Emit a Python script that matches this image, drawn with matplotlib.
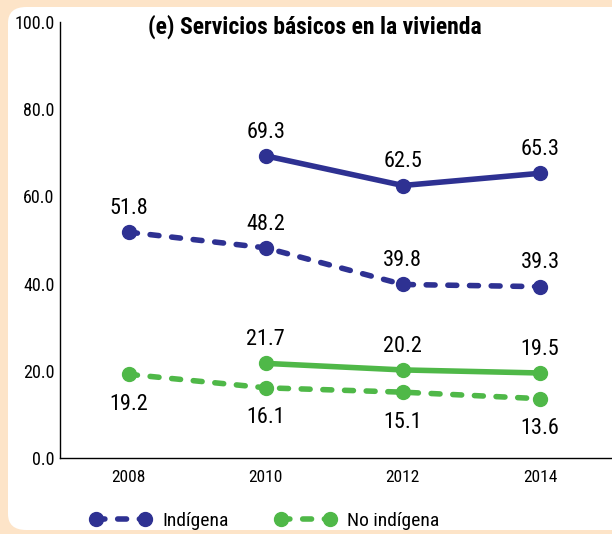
import matplotlib.pyplot as plt
from matplotlib.patches import FancyBboxPatch
from matplotlib.font_manager import fontManager

# Data
years_all = [2008, 2010, 2012, 2014]
years_new = [2010, 2012, 2014]
indigena_new = [69.3, 62.5, 65.3]
indigena_old = [51.8, 48.2, 39.8, 39.3]
noind_new = [21.7, 20.2, 19.5]
noind_old = [19.2, 16.1, 15.1, 13.6]
y_ticks = [0, 20, 40, 60, 80, 100]
y_labels = ['0.0', '20.0', '40.0', '60.0', '80.0', '100.0']
title = '(e) Servicios básicos en la vivienda'
legend_labels = ['Indígena', 'No indígena']

BLUE = '#2e3192'
GREEN = '#4fb848'
PEACH = '#fde4c8'

# condensed font if there is one
names = {f.name for f in fontManager.ttflist}
wanted = ['Roboto Condensed', 'Archivo Narrow', 'PT Sans Narrow', 'Barlow Condensed',
          'Liberation Sans Narrow', 'Asap Condensed', 'Encode Sans Condensed']
fam = [n for n in wanted if n in names][:1]
plt.rcParams['font.family'] = fam + ['DejaVu Sans']

fig = plt.figure(figsize=(6.12, 5.34), dpi=100)
fig.patch.set_facecolor(PEACH)
panel = FancyBboxPatch((8 / 612, 4 / 534), 640 / 612, 523 / 534,
                       boxstyle='round,pad=0,rounding_size=0.03',
                       transform=fig.transFigure, facecolor='white',
                       edgecolor='none', zorder=-5)
fig.patches.append(panel)

ax = fig.add_axes([60 / 612, 1 - 458 / 534, 1 - 60 / 612, (458 - 22) / 534])
ax.set_facecolor('none')
ax.set_xlim(2007, 2015.05)
ax.set_ylim(0, 100)
for s in ['top', 'right']:
    ax.spines[s].set_visible(False)
ax.spines['left'].set_linewidth(1)
ax.spines['bottom'].set_linewidth(1)
ax.set_yticks(y_ticks, y_labels, fontsize=13)
ax.set_xticks(years_all, [str(y) for y in years_all], fontsize=12.5)
ax.tick_params(length=0, pad=4)
ax.tick_params(axis='x', pad=9)

dash = (1.6, 2.3)
ms = 10
lw = 4
kw = dict(lw=lw, marker='o', ms=ms, clip_on=False, dash_capstyle='round',
          solid_capstyle='round')
ax.plot(years_new, indigena_new, color=BLUE, **kw)
ax.plot(years_all, indigena_old, color=BLUE, ls=(0, dash), **kw)
ax.plot(years_new, noind_new, color=GREEN, **kw)
ax.plot(years_all, noind_old, color=GREEN, ls=(0, dash), **kw)

fs = 16
for x, v in zip(years_new, indigena_new):
    ax.annotate(f'{v:.1f}', (x, v), xytext=(0, 9.5), textcoords='offset points',
                ha='center', va='bottom', fontsize=fs)
for x, v in zip(years_all, indigena_old):
    ax.annotate(f'{v:.1f}', (x, v), xytext=(0, 9.5), textcoords='offset points',
                ha='center', va='bottom', fontsize=fs)
for x, v in zip(years_new, noind_new):
    ax.annotate(f'{v:.1f}', (x, v), xytext=(0, 9.5), textcoords='offset points',
                ha='center', va='bottom', fontsize=fs)
for x, v in zip(years_all, noind_old):
    ax.annotate(f'{v:.1f}', (x, v), xytext=(0, -14), textcoords='offset points',
                ha='center', va='top', fontsize=fs)

fig.text(315 / 612, 1 - 27 / 534, title, ha='center', va='center',
         fontsize=17, fontweight='bold')

h1, = ax.plot([], [], color=BLUE, ls=(0, dash), **kw)
h2, = ax.plot([], [], color=GREEN, ls=(0, dash), **kw)
fig.legend([h1, h2], legend_labels, loc='center', bbox_to_anchor=(265 / 612, 1 - 521 / 534),
           ncol=2, frameon=False, fontsize=14, numpoints=2, handlelength=3.1,
           columnspacing=2.4, handletextpad=0.6, borderpad=0)

fig.savefig('out.png', dpi=100, facecolor=PEACH)
